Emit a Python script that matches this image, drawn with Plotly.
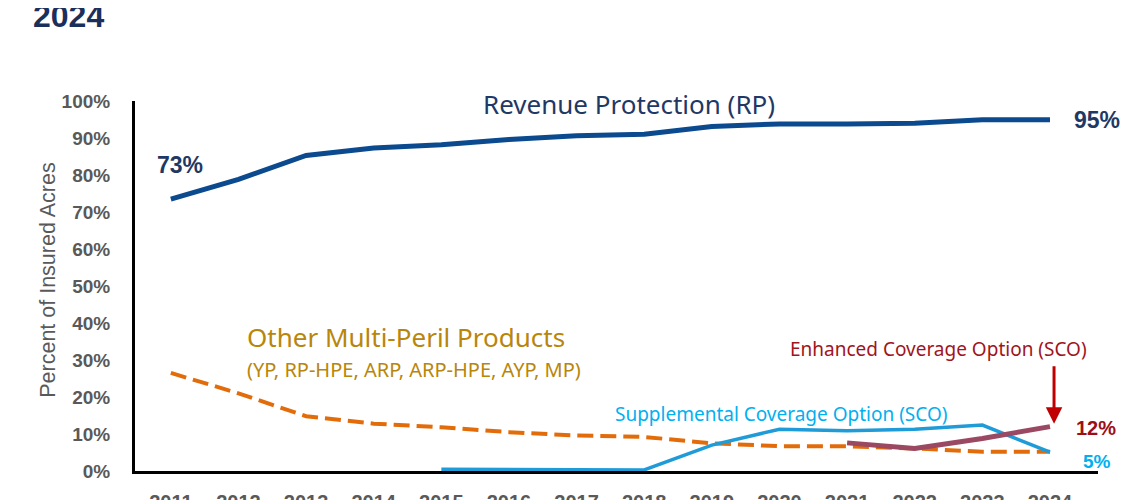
import plotly.graph_objects as go

years = list(range(2011, 2025))
rp = [73.5, 78.8, 85.3, 87.3, 88.2, 89.6, 90.6, 91.0, 93.1, 93.8, 93.8, 94.0, 94.9, 94.9]
other = [26.5, 21.0, 14.8, 12.8, 11.8, 10.5, 9.6, 9.2, 7.5, 6.7, 6.7, 6.1, 5.2, 5.2]
sco_years = list(range(2015, 2025))
sco = [0.5, 0.4, 0.3, 0.3, 7.0, 11.3, 10.9, 11.3, 12.4, 5.1]
eco_years = [2021, 2022, 2023, 2024]
eco = [7.6, 6.1, 8.8, 12.0]
ytick_vals = list(range(0, 101, 10))
ytick_text = [f"{v}%" for v in ytick_vals]

C_RP = "#0B4A8E"
C_RP_TXT = "#1F3864"
C_OTHER = "#E36C0A"
C_OTHER_TXT = "#B8860B"
C_SCO = "#1F9BD8"
C_SCO_TXT = "#00B0F0"
C_ECO = "#9B4862"
C_ECO_TXT = "#A0141C"
C_ARROW = "#C00000"
GRAY = "#595959"

fig = go.Figure()
fig.add_trace(go.Scatter(x=years, y=other, mode="lines",
                         line=dict(color=C_OTHER, width=4, dash="16px,7px"), hoverinfo="skip"))
fig.add_trace(go.Scatter(x=sco_years, y=sco, mode="lines",
                         line=dict(color=C_SCO, width=3.5), hoverinfo="skip"))
fig.add_trace(go.Scatter(x=eco_years, y=eco, mode="lines",
                         line=dict(color=C_ECO, width=5), hoverinfo="skip"))
fig.add_trace(go.Scatter(x=years, y=rp, mode="lines",
                         line=dict(color=C_RP, width=5), hoverinfo="skip"))

LBL = "Noto Sans"
BOLD = "Liberation Sans, Arial"
ann = []
ann.append(dict(x=2017.77, y=99.2, text="Revenue Protection (RP)", showarrow=False,
                font=dict(family=LBL, size=26, color=C_RP_TXT), xanchor="center", yanchor="middle"))
ann.append(dict(x=years[0] + 0.13, y=82.7, text="73%", showarrow=False,
                font=dict(family=BOLD, size=23, color=C_RP_TXT, weight="bold")))
ann.append(dict(x=years[-1] + 0.69, y=94.9, text="95%", showarrow=False,
                font=dict(family=BOLD, size=23, color=C_RP_TXT, weight="bold")))
ann.append(dict(x=2012.09, y=36.3, text="Other Multi-Peril Products", showarrow=False,
                font=dict(family=LBL, size=26, color=C_OTHER_TXT), xanchor="left", yanchor="middle"))
ann.append(dict(x=2012.09, y=27.4, text="(YP, RP-HPE, ARP, ARP-HPE, AYP, MP)", showarrow=False,
                font=dict(family=LBL, size=20, color=C_OTHER_TXT), xanchor="left", yanchor="middle"))
ann.append(dict(x=2017.54, y=15.5, text="Supplemental Coverage Option (SCO)", showarrow=False,
                font=dict(family=LBL, size=19, color=C_SCO_TXT), xanchor="left", yanchor="middle"))
ann.append(dict(x=2022.35, y=33.1, text="Enhanced Coverage Option (SCO)", showarrow=False,
                font=dict(family=LBL, size=19, color=C_ECO_TXT), xanchor="center", yanchor="middle"))
ann.append(dict(x=years[-1] + 0.68, y=11.6, text="12%", showarrow=False,
                font=dict(family=BOLD, size=20, color="#9C0F14", weight="bold")))
ann.append(dict(x=years[-1] + 0.69, y=2.7, text="5%", showarrow=False,
                font=dict(family=BOLD, size=19, color=C_SCO_TXT, weight="bold")))
ann.append(dict(x=eco_years[-1] + 0.06, y=eco[-1] + 0.8, ax=eco_years[-1] + 0.06, ay=28.7,
                xref="x", yref="y", axref="x", ayref="y", text="", showarrow=True,
                arrowhead=2, arrowsize=1.1, arrowwidth=3, arrowcolor=C_ARROW))
# y-axis title
ann.append(dict(xref="paper", yref="paper", x=-0.09, y=0.515, text="Percent of Insured Acres",
                textangle=-90, showarrow=False, xanchor="center", yanchor="middle",
                font=dict(family=BOLD, size=21.5, color=GRAY)))

shapes = [
    dict(type="line", xref="paper", yref="paper", x0=1.0426, x1=1.0426, y0=-0.1, y1=1.3,
         line=dict(color="#C8C8C8", width=1.5)),
]

# page body has an 8px margin, so figure coordinates are shifted by 8px
OFF = 8
fig.update_layout(
    width=1140, height=500,
    margin=dict(l=135 - OFF, r=1140 - (1098 - OFF), t=101 - OFF, b=500 - (471.5 - OFF),
                autoexpand=False),
    plot_bgcolor="white", paper_bgcolor="white",
    showlegend=False,
    title=dict(text="2024", x=(33 - OFF) / 1140, xanchor="left", y=1 - (15.5 - OFF) / 500,
               yanchor="middle",
               font=dict(family=BOLD, size=32, color="#1B2F5C", weight="bold")),
    annotations=ann,
    shapes=shapes,
    xaxis=dict(range=[2010.47, 2024.71], tickvals=years, ticktext=[str(y) for y in years],
               automargin=False,
               showline=True, linecolor="black", linewidth=3, showgrid=False, zeroline=False,
               ticks="outside", ticklen=11, tickcolor="rgba(0,0,0,0)",
               tickfont=dict(family=BOLD, size=20, color=GRAY, weight="bold")),
    yaxis=dict(range=[0, 100], tickvals=ytick_vals, ticktext=ytick_text,
               automargin=False,
               showline=True, linecolor="black", linewidth=3, showgrid=False, zeroline=False,
               ticks="outside", ticklen=18, tickcolor="rgba(0,0,0,0)",
               tickfont=dict(family=BOLD, size=19, color=GRAY, weight="bold")),
)

fig.write_html("out.html")
